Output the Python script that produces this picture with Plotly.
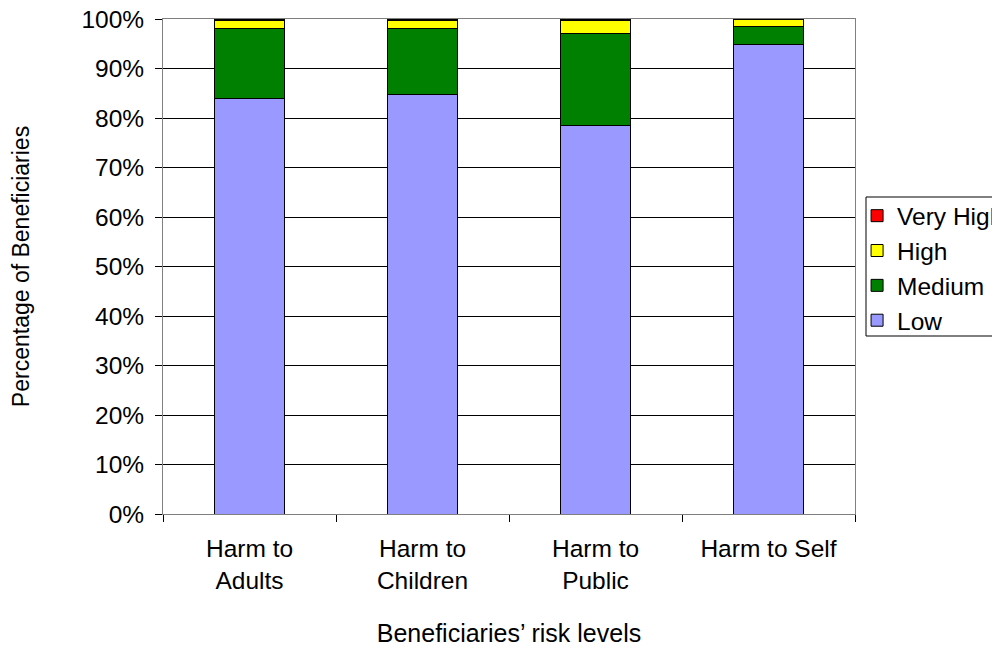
import plotly.graph_objects as go

categories = ["Harm to<br>Adults", "Harm to<br>Children", "Harm to<br>Public", "Harm to Self"]
low = [84.0, 84.8, 78.4, 94.8]
medium = [14.1, 13.3, 18.7, 3.6]
high = [1.6, 1.6, 2.5, 1.5]
very_high = [0.3, 0.3, 0.4, 0.1]
y_ticks = list(range(0, 101, 10))
y_tick_labels = [f"{v}%" for v in y_ticks]

series = [
    ("Low", low, "#9999FF", 4),
    ("Medium", medium, "#008000", 3),
    ("High", high, "#FFFF00", 2),
    ("Very High", very_high, "#FF0000", 1),
]

fig = go.Figure()
for name, vals, color, rank in series:
    fig.add_trace(go.Bar(
        name=name, x=categories, y=vals, legendrank=rank,
        marker=dict(color=color, line=dict(color="black", width=1)),
    ))

font = "Liberation Sans, Arial, sans-serif"
fig.update_layout(
    barmode="stack",
    bargap=0.59,
    width=1000, height=646,
    margin=dict(l=155, r=153, t=11, b=140, autoexpand=False),
    paper_bgcolor="white", plot_bgcolor="white",
    font=dict(family=font, size=24, color="black"),
    legend=dict(
        x=1.003, y=0.648, xanchor="left", yanchor="top",
        traceorder="normal",
        borderwidth=0, bgcolor="rgba(0,0,0,0)",
        font=dict(size=24.5), itemwidth=30,
    ),
    xaxis=dict(
        tickson="boundaries", ticks="outside", ticklen=7, tickcolor="black",
        showline=True, linecolor="#808080", mirror=True,
        ticklabelstandoff=13,
        title=dict(text="Beneficiaries’ risk levels", standoff=31, font=dict(size=25)),
        tickfont=dict(size=24.5),
    ),
    yaxis=dict(
        range=[0, 100], tickvals=y_ticks, ticktext=y_tick_labels,
        ticks="outside", ticklen=7, tickcolor="black",
        showgrid=True, gridcolor="black", gridwidth=1,
        showline=True, linecolor="#808080", mirror=True,
        ticklabelstandoff=6, ticklabeloverflow="allow",
        title=dict(text="Percentage of Beneficiaries", standoff=49, font=dict(size=23)),
        tickfont=dict(size=24.5),
    ),
    shapes=[dict(
        type="rect", xref="paper", yref="paper",
        x0=(858 - 155) / 692, x1=1.3, y0=(506 - 328) / 495, y1=(506 - 189) / 495,
        line=dict(color="black", width=1), fillcolor="rgba(0,0,0,0)", layer="below",
    )],
)

fig.write_html("out.html")
